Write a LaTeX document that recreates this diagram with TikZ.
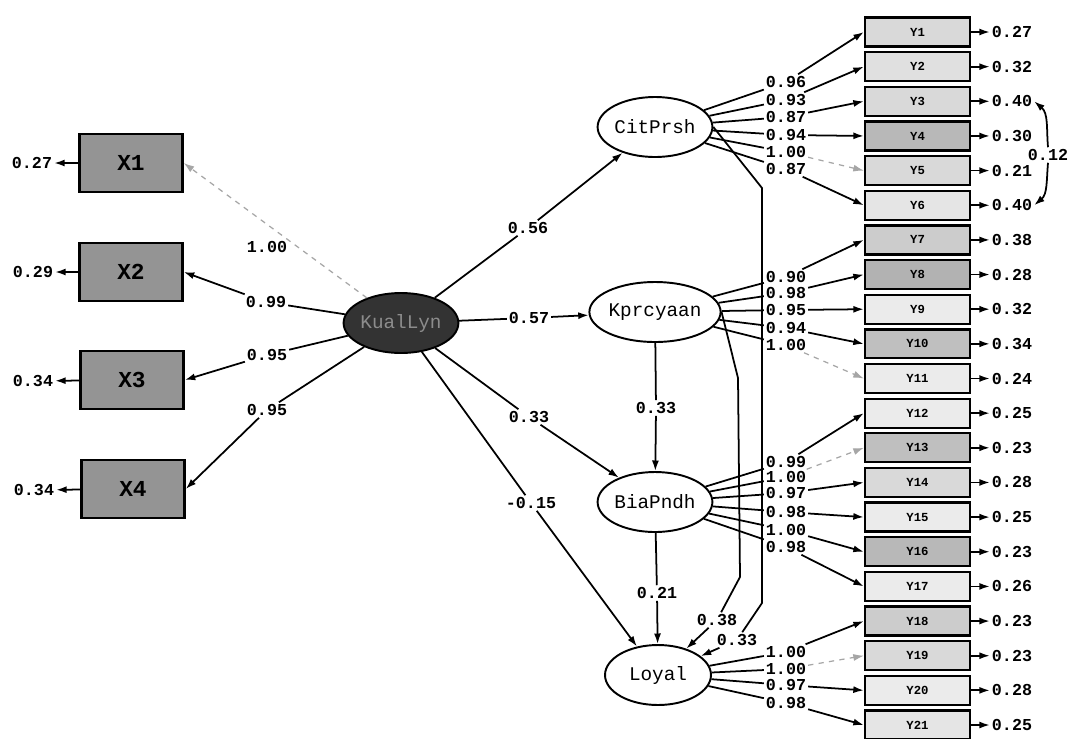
\documentclass[tikz,border=0pt]{standalone}
\usepackage{fontspec}
\setmonofont{Liberation Mono}
\usetikzlibrary{arrows.meta,shapes.geometric}
\begin{document}
\begin{tikzpicture}[x=0.02cm,y=-0.02cm,
  lbl/.style={font=\ttfamily\bfseries\fontsize{9.5}{10}\selectfont, inner sep=1pt},
  ybox/.style={draw, line width=1.3pt, minimum width=2.1cm, minimum height=0.58cm, inner sep=0pt, font=\ttfamily\bfseries\fontsize{7}{7}\selectfont},
  xbox/.style={draw, line width=1.4pt, fill=black!42, minimum width=2.06cm, minimum height=1.16cm, inner sep=0pt, font=\ttfamily\bfseries\fontsize{13}{13}\selectfont},
  lat/.style={draw, ellipse, line width=1.1pt, minimum width=2.12cm, minimum height=1.2cm, inner sep=0pt, font=\ttfamily\fontsize{11}{11}\selectfont},
  arr/.style={-{Latex[length=6pt,width=4pt]}, line width=1pt},
  ln/.style={line width=1pt},
  farr/.style={-{Latex[length=6pt,width=4pt]}, line width=0.7pt, black!35, dashed}
]
\useasboundingbox (0,0) rectangle (1068,738);
\fill[white] (0,0) rectangle (1068,738);

% exogenous
\node[xbox] (X1) at (131,163) {X1};
\node[xbox] (X2) at (131,272) {X2};
\node[xbox] (X3) at (132,380) {X3};
\node[xbox] (X4) at (133,489) {X4};
\node[lbl] (d1) at (32,163) {0.27};
\node[lbl] (d2) at (33,272) {0.29};
\node[lbl] (d3) at (33,381) {0.34};
\node[lbl] (d4) at (34,490) {0.34};
\foreach \i in {1,...,4}{\draw[arr] (X\i) -- (d\i);}

% latent
\node[lat, fill=black!80, text=black!45] (KL) at (401,323) {KualLyn};
\node[lat] (CP) at (655,127) {CitPrsh};
\node[lat] (KP) at (655,312) {Kprcyaan};
\node[lat] (BP) at (655,502) {BiaPndh};
\node[lat] (LY) at (658,675) {Loyal};

% loadings on X
\node[lbl] (lx1) at (267,247) {1.00};
\node[lbl] (lx2) at (266,302) {0.99};
\node[lbl] (lx3) at (267,355) {0.95};
\node[lbl] (lx4) at (267,410) {0.95};
\draw[farr] (KL) -- (X1.east);
\draw[arr] (KL) -- (lx2) -- (X2.east);
\draw[arr] (KL) -- (lx3) -- (X3.east);
\draw[arr] (KL) -- (lx4) -- (X4.east);

% structural paths
\node[lbl] (g1) at (528,228) {0.56};
\node[lbl] (g2) at (529,318) {0.57};
\node[lbl] (g3) at (529,417) {0.33};
\node[lbl] (g4) at (531,503) {-0.15};
\draw[arr] (KL) -- (g1) -- (CP);
\draw[arr] (KL) -- (g2) -- (KP);
\draw[arr] (KL) -- (g3) -- (BP);
\draw[arr] (KL) -- (g4) -- (LY);

\node[lbl] (b1) at (656,408) {0.33};
\node[lbl] (b2) at (657,593) {0.21};
\node[lbl] (b3) at (717,620) {0.38};
\node[lbl] (b4) at (737,640) {0.33};
\draw[arr] (KP) -- (b1) -- (BP);
\draw[arr] (BP) -- (b2) -- (LY);
\draw[arr] (KP.east) -- (738,378) -- (740,577) -- (b3) -- (LY);
\draw[arr] (CP.east) -- (762,188) -- (762,603) -- (b4) -- (LY);

% indicator boxes and errors
\foreach \i/\e/\f in {1/0.27/15,2/0.32/12,3/0.40/15,4/0.30/28,5/0.21/15,6/0.40/10,7/0.38/20,
  8/0.28/30,9/0.32/8,10/0.34/25,11/0.24/8,12/0.25/8,13/0.23/25,14/0.28/15,15/0.25/8,
  16/0.23/28,17/0.26/8,18/0.23/20,19/0.23/15,20/0.28/8,21/0.25/10}{
  \pgfmathsetmacro\yy{32+(\i-1)*34.65}
  \node[ybox, fill=black!\f] (Y\i) at (917.5,\yy) {Y\i};
  \node[lbl] (e\i) at (1012,\yy) {\e};
  \draw[arr] (Y\i) -- (e\i);
}

% loadings on Y
\foreach \i/\v/\y/\s in {1/0.96/82/CP,2/0.93/100/CP,3/0.87/117/CP,4/0.94/135/CP,6/0.87/169/CP,
  7/0.90/277/KP,8/0.98/293/KP,9/0.95/310/KP,10/0.94/328/KP,
  12/0.99/462/BP,14/0.97/493/BP,15/0.98/512/BP,16/1.00/530/BP,17/0.98/547/BP,
  18/1.00/652/LY,20/0.97/685/LY,21/0.98/703/LY}{
  \node[lbl] (L\i) at (786,\y) {\v};
  \draw[ln] (\s) -- (L\i);
  \draw[arr] (L\i) -- (Y\i.west);
}
\foreach \i/\v/\y/\s in {5/1.00/152/CP,11/1.00/345/KP,13/1.00/477/BP,19/1.00/669/LY}{
  \node[lbl] (L\i) at (786,\y) {\v};
  \draw[ln] (\s) -- (L\i);
  \draw[farr] (L\i) -- (Y\i.west);
}

% error covariance
\node[lbl] (c12) at (1048,155) {0.12};
\draw[arr] (c12.north) to[out=95,in=-40] (e3.east);
\draw[arr] (c12.south) to[out=-95,in=40] (e6.east);
\end{tikzpicture}
\end{document}
